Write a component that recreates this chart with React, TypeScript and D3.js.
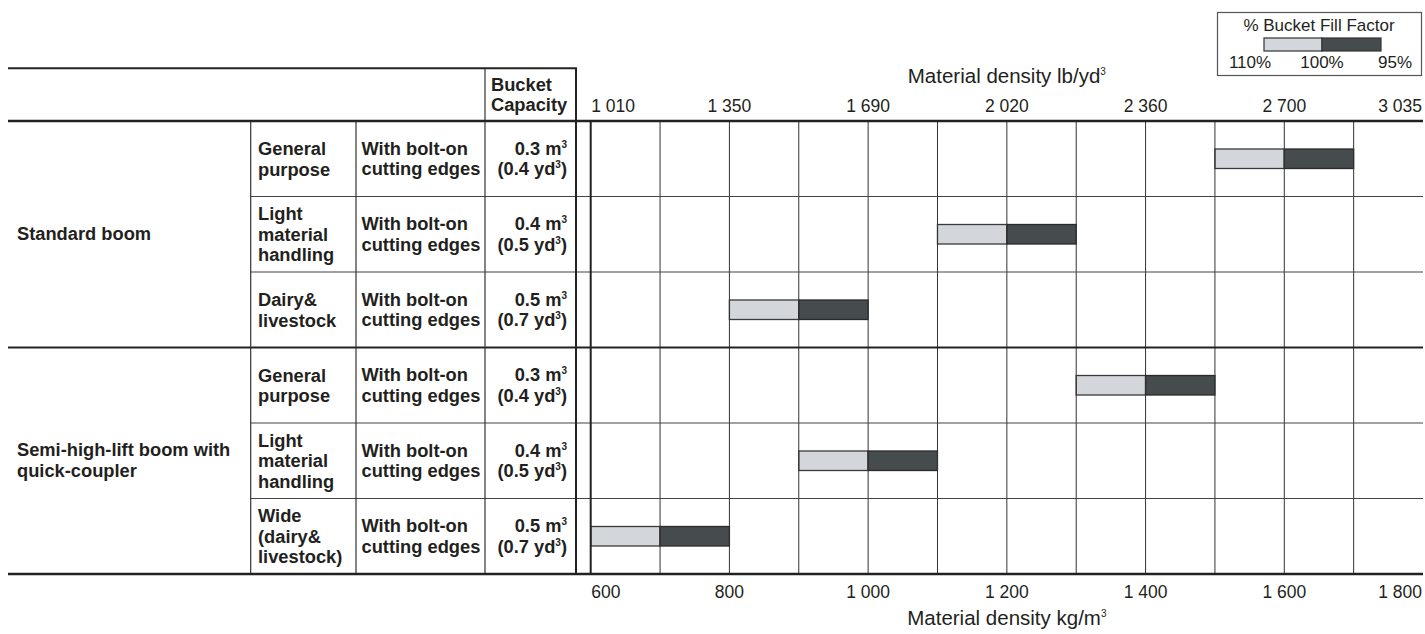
import React from "react";
import * as d3 from "d3";

// ---------- data ----------
const groups = ["Standard boom", "Semi-high-lift boom with|quick-coupler"];
const groupRows = [[0, 1, 2], [3, 4, 5]];
const applications = [
  "General|purpose",
  "Light|material|handling",
  "Dairy&|livestock",
  "General|purpose",
  "Light|material|handling",
  "Wide|(dairy&|livestock)",
];
const edges = ["With bolt-on|cutting edges", "With bolt-on|cutting edges", "With bolt-on|cutting edges", "With bolt-on|cutting edges", "With bolt-on|cutting edges", "With bolt-on|cutting edges"];
const capacityM3 = ["0.3", "0.4", "0.5", "0.3", "0.4", "0.5"];
const capacityYd3 = ["0.4", "0.5", "0.7", "0.4", "0.5", "0.7"];
// material density kg/m3 at 110%, 100%, 95% bucket fill factor
const density110 = [1500, 1100, 800, 1300, 900, 600];
const density100 = [1600, 1200, 900, 1400, 1000, 700];
const density95 = [1700, 1300, 1000, 1500, 1100, 800];
const kgTicks = [600, 800, 1000, 1200, 1400, 1600, 1800];
const kgTickLabels = ["600", "800", "1 000", "1 200", "1 400", "1 600", "1 800"];
const lbTickLabels = ["1 010", "1 350", "1 690", "2 020", "2 360", "2 700", "3 035"];
const gridValues = [700, 800, 900, 1000, 1100, 1200, 1300, 1400, 1500, 1600, 1700];
const legendLabels = ["110%", "100%", "95%"];

// ---------- layout ----------
const W = 1425;
const H = 634;
const INK = "#231f20";
const LIGHT = "#d3d6da";
const DARK = "#464b4d";
const FONT = "'Liberation Sans', Arial, Helvetica, sans-serif";

const colGroup = 8;
const colApp = 250.7;
const colEdge = 356;
const colCap = 485;
const colSep = 576;
const chartLeft = 590.7;
const chartRight = 1423;
const topLine = 68.3;
const headTop = 121;
const tableBottom = 574;

export default function App() {
  const x = d3.scaleLinear().domain([600, 1800]).range([chartLeft, chartRight]);
  const y = d3
    .scaleBand<number>()
    .domain(d3.range(applications.length))
    .range([headTop, tableBottom])
    .padding(0);
  const bh = 19.5;
  const L = 20.5;
  const cap = 6.6;
  const FS = 18.3;

  const multiline = (txt: string, xx: number, cy: number, anchor: string, key: string) => {
    const lines = txt.split("|");
    const first = cy - ((lines.length - 1) * L) / 2 + cap;
    return (
      <text key={key} x={xx} y={first} textAnchor={anchor} fontWeight="bold" fontSize={FS} fill={INK}>
        {lines.map((l, i) => (
          <tspan key={i} x={xx} y={first + i * L}>
            {l}
          </tspan>
        ))}
      </text>
    );
  };

  const tickAnchor = (i: number) => (i === 0 ? "start" : i === kgTicks.length - 1 ? "end" : "middle");
  const tickX = (v: number, i: number) => (i === 0 ? x(v) + 0.5 : i === kgTicks.length - 1 ? x(v) - 1 : x(v));

  return (
    <svg
      width={W}
      height={H}
      style={{ position: "absolute", left: 0, top: 0, background: "#fff" }}
      fontFamily={FONT}
    >
      <rect x={0} y={0} width={W} height={H} fill="#fff" />

      {/* legend */}
      <g>
        <rect x={1217.5} y={12.5} width={204} height={63} fill="#fff" stroke="#555" strokeWidth={1.2} />
        <text x={1319} y={30.5} textAnchor="middle" fontSize={17} fill={INK}>
          % Bucket Fill Factor
        </text>
        <rect x={1264} y={38} width={58} height={13} fill={LIGHT} stroke="#333" strokeWidth={1.2} />
        <rect x={1322} y={38} width={59} height={13} fill={DARK} stroke="#333" strokeWidth={1.2} />
        <text x={1250} y={68} textAnchor="middle" fontSize={17} fill={INK}>{legendLabels[0]}</text>
        <text x={1322} y={68} textAnchor="middle" fontSize={17} fill={INK}>{legendLabels[1]}</text>
        <text x={1412} y={68} textAnchor="end" fontSize={17} fill={INK}>{legendLabels[2]}</text>
      </g>

      {/* top axis title */}
      <text x={(chartLeft + chartRight) / 2} y={83} textAnchor="middle" fontSize={20.5} fill={INK}>
        Material density lb/yd
        <tspan fontSize={10} dy={-8}>3</tspan>
      </text>
      {/* top tick labels */}
      {kgTicks.map((v, i) => (
        <text key={"lt" + i} x={tickX(v, i)} y={112} textAnchor={tickAnchor(i)} fontSize={17.5} fill={INK}>
          {lbTickLabels[i]}
        </text>
      ))}

      {/* header text */}
      <text x={491} y={90.7} fontWeight="bold" fontSize={FS} fill={INK}>
        Bucket
      </text>
      <text x={491} y={110.5} fontWeight="bold" fontSize={FS} fill={INK}>
        Capacity
      </text>

      {/* bars */}
      {applications.map((_, i) => {
        const cy = (y(i) as number) + y.bandwidth() / 2;
        return (
          <g key={"bar" + i}>
            <rect
              x={x(density110[i])}
              y={cy - bh / 2}
              width={x(density100[i]) - x(density110[i])}
              height={bh}
              fill={LIGHT}
              stroke="#3a3a3a"
              strokeWidth={1.3}
            />
            <rect
              x={x(density100[i])}
              y={cy - bh / 2}
              width={x(density95[i]) - x(density100[i])}
              height={bh}
              fill={DARK}
              stroke="#2a2a2a"
              strokeWidth={1.3}
            />
          </g>
        );
      })}

      {/* grid lines */}
      {gridValues.map((v) => (
        <line key={"g" + v} x1={x(v)} x2={x(v)} y1={headTop} y2={tableBottom} stroke="#333" strokeWidth={1} />
      ))}

      {/* row lines */}
      {applications.map((_, i) =>
        i === 0 || i === 3 ? null : (
          <line key={"r" + i} x1={colApp} x2={chartRight} y1={y(i) as number} y2={y(i) as number} stroke="#444" strokeWidth={1.1} />
        )
      )}
      <line x1={colGroup} x2={chartRight} y1={y(3) as number} y2={y(3) as number} stroke="#222" strokeWidth={2.2} />

      {/* column lines */}
      <line x1={colApp} x2={colApp} y1={headTop} y2={tableBottom} stroke="#333" strokeWidth={1.2} />
      <line x1={colEdge} x2={colEdge} y1={headTop} y2={tableBottom} stroke="#333" strokeWidth={1.2} />
      <line x1={colCap} x2={colCap} y1={topLine} y2={tableBottom} stroke="#333" strokeWidth={1.2} />
      <line x1={colSep} x2={colSep} y1={topLine} y2={tableBottom} stroke="#222" strokeWidth={2} />
      <line x1={chartLeft} x2={chartLeft} y1={headTop} y2={tableBottom} stroke="#222" strokeWidth={2} />

      {/* horizontal frame */}
      <line x1={colGroup} x2={colSep + 1} y1={topLine} y2={topLine} stroke="#222" strokeWidth={2} />
      <line x1={colGroup} x2={chartRight} y1={headTop} y2={headTop} stroke="#222" strokeWidth={2.5} />
      <line x1={colGroup} x2={chartRight} y1={tableBottom} y2={tableBottom} stroke="#222" strokeWidth={2.5} />

      {/* group labels */}
      {groups.map((g, gi) => {
        const rows = groupRows[gi];
        const top = y(rows[0]) as number;
        const bot = (y(rows[rows.length - 1]) as number) + y.bandwidth();
        return multiline(g, 17, (top + bot) / 2 - 1, "start", "grp" + gi);
      })}

      {/* row texts */}
      {applications.map((a, i) => {
        const cy = (y(i) as number) + y.bandwidth() / 2;
        return (
          <g key={"t" + i}>
            {multiline(a, 258, cy, "start", "a" + i)}
            {multiline(edges[i], 361.5, cy - 0.5, "start", "e" + i)}
            <text x={567} y={cy - L / 2 + cap - 0.5} textAnchor="end" fontWeight="bold" fontSize={FS} fill={INK}>
              {capacityM3[i]} m<tspan fontSize={10} dy={-7}>3</tspan>
            </text>
            <text x={567} y={cy + L / 2 + cap - 0.5} textAnchor="end" fontWeight="bold" fontSize={FS} fill={INK}>
              ({capacityYd3[i]} yd<tspan fontSize={10} dy={-7}>3</tspan>
              <tspan dy={7}>)</tspan>
            </text>
          </g>
        );
      })}

      {/* bottom tick labels */}
      {kgTicks.map((v, i) => (
        <text key={"bt" + i} x={tickX(v, i)} y={598} textAnchor={tickAnchor(i)} fontSize={17.5} fill={INK}>
          {kgTickLabels[i]}
        </text>
      ))}
      <text x={(chartLeft + chartRight) / 2} y={625} textAnchor="middle" fontSize={20.5} fill={INK}>
        Material density kg/m
        <tspan fontSize={10} dy={-8}>3</tspan>
      </text>
    </svg>
  );
}
